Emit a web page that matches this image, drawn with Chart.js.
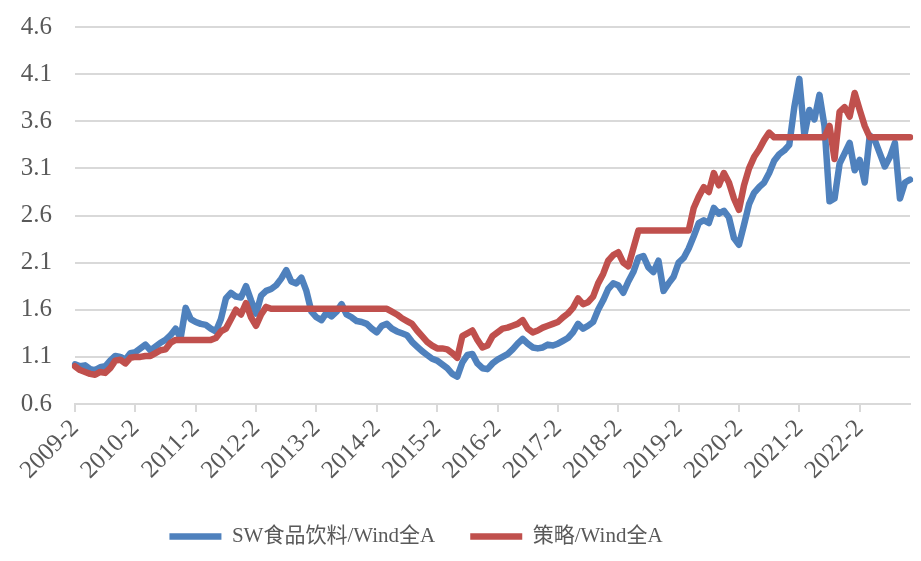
<!DOCTYPE html>
<html>
<head>
<meta charset="utf-8">
<script src="https://cdn.jsdelivr.net/npm/chart.js@4.4.0/dist/chart.umd.min.js"></script>
<style>
  html, body { margin: 0; padding: 0; background: #fff; }
  #wrap { width: 921px; height: 561px; }
</style>
</head>
<body>
<div id="wrap"><canvas id="lineChart_ratio"></canvas></div>
<script>
// month labels 2009-2 .. 2022-12, only the "-2" ones are shown
var months = [];
for (let y = 2009; y <= 2022; y++) {
  for (let m = 1; m <= 12; m++) {
    if (y === 2009 && m < 2) continue;
    months.push(y + '-' + m);
  }
}
var yearTicks = ['2009-2', '2010-2', '2011-2', '2012-2', '2013-2', '2014-2', '2015-2',
  '2016-2', '2017-2', '2018-2', '2019-2', '2020-2', '2021-2', '2022-2'];

var seriesNames = ['SW食品饮料/Wind全A', '策略/Wind全A'];

var foodRatio = [
  1.02, 1.00, 1.01, 0.97, 0.96, 0.99, 1.00, 1.06, 1.11, 1.10, 1.07, 1.14,
  1.15, 1.19, 1.23, 1.17, 1.21, 1.25, 1.28, 1.33, 1.40, 1.30, 1.62, 1.50,
  1.47, 1.45, 1.44, 1.40, 1.37, 1.50, 1.72, 1.78, 1.74, 1.73, 1.85, 1.70,
  1.56, 1.75, 1.80, 1.82, 1.86, 1.93, 2.02, 1.90, 1.88, 1.94, 1.80, 1.58,
  1.52, 1.49, 1.57, 1.53, 1.58, 1.66, 1.55, 1.52, 1.48, 1.47, 1.45, 1.40,
  1.36, 1.43, 1.45, 1.40, 1.37, 1.35, 1.33, 1.26, 1.21, 1.16, 1.12, 1.08,
  1.06, 1.02, 0.98, 0.92, 0.89, 1.04, 1.12, 1.13, 1.03, 0.98, 0.97, 1.03,
  1.07, 1.10, 1.13, 1.18, 1.24, 1.29, 1.24, 1.20, 1.19, 1.20, 1.23, 1.22,
  1.24, 1.27, 1.30, 1.36, 1.45, 1.40, 1.43, 1.47, 1.60, 1.70, 1.82, 1.88,
  1.86, 1.78, 1.90, 2.00, 2.15, 2.17, 2.05, 2.00, 2.12, 1.80, 1.88, 1.95,
  2.10, 2.15, 2.25, 2.38, 2.52, 2.55, 2.52, 2.68, 2.62, 2.65, 2.58, 2.36,
  2.29, 2.50, 2.72, 2.84, 2.90, 2.95, 3.05, 3.18, 3.25, 3.29, 3.35, 3.75,
  4.05, 3.45, 3.72, 3.62, 3.88, 3.55, 2.75, 2.78, 3.15, 3.26, 3.37, 3.08,
  3.19, 2.95, 3.45, 3.40, 3.26, 3.12, 3.22, 3.37, 2.78, 2.95, 2.98
];

var strategyRatio = [
  1.00, 0.96, 0.94, 0.92, 0.91, 0.94, 0.93, 0.98, 1.06, 1.07, 1.03, 1.09,
  1.10, 1.10, 1.11, 1.11, 1.14, 1.17, 1.18, 1.25, 1.28, 1.28, 1.28, 1.28,
  1.28, 1.28, 1.28, 1.28, 1.30, 1.37, 1.40, 1.50, 1.60, 1.55, 1.67, 1.52,
  1.43, 1.55, 1.63, 1.61, 1.61, 1.61, 1.61, 1.61, 1.61, 1.61, 1.61, 1.61,
  1.61, 1.61, 1.61, 1.61, 1.61, 1.61, 1.61, 1.61, 1.61, 1.61, 1.61, 1.61,
  1.61, 1.61, 1.61, 1.58, 1.55, 1.51, 1.48, 1.45, 1.38, 1.32, 1.26, 1.22,
  1.19, 1.19, 1.18, 1.14, 1.09, 1.32, 1.35, 1.38, 1.28, 1.20, 1.22, 1.32,
  1.36, 1.40, 1.41, 1.43, 1.45, 1.49, 1.40, 1.36, 1.38, 1.41, 1.43, 1.45,
  1.47, 1.52, 1.56, 1.62, 1.72, 1.66, 1.68, 1.74, 1.88, 1.98, 2.12, 2.18,
  2.21, 2.10, 2.06, 2.25, 2.44, 2.44, 2.44, 2.44, 2.44, 2.44, 2.44, 2.44,
  2.44, 2.44, 2.44, 2.68, 2.80, 2.90, 2.85, 3.05, 2.92, 3.05, 2.95, 2.78,
  2.66, 2.92, 3.10, 3.22, 3.30, 3.40, 3.48, 3.43, 3.43, 3.43, 3.43, 3.43,
  3.43, 3.43, 3.43, 3.43, 3.43, 3.43, 3.55, 3.20, 3.70, 3.75, 3.65, 3.90,
  3.72, 3.55, 3.43, 3.43, 3.43, 3.43, 3.43, 3.43, 3.43, 3.43, 3.43
];

var fontFamily = '"Liberation Serif", "Times New Roman", "Noto Sans CJK SC", serif';
var gridColor = '#d9d9d9';
var textColor = '#595959';

// legend in the source sits a bit left of centre
var shiftLegend = {
  id: 'shiftLegend',
  afterLayout: function (chart) {
    if (chart.legend) {
      chart.legend.right -= 78;
    }
  }
};

var ctx = document.getElementById('lineChart_ratio').getContext('2d');
var ratioChart = new Chart(ctx, {
  type: 'line',
  data: {
    labels: months,
    datasets: [{
      label: seriesNames[0],
      data: foodRatio,
      borderColor: '#4f81bd',
      backgroundColor: '#4f81bd',
      borderWidth: 6.5,
      borderCapStyle: 'round',
      borderJoinStyle: 'round',
      pointRadius: 0,
      tension: 0,
      order: 1
    }, {
      label: seriesNames[1],
      data: strategyRatio,
      borderColor: '#c0504d',
      backgroundColor: '#c0504d',
      borderWidth: 6.5,
      borderCapStyle: 'round',
      borderJoinStyle: 'round',
      pointRadius: 0,
      tension: 0,
      order: 0
    }]
  },
  plugins: [shiftLegend],
  options: {
    responsive: true,
    maintainAspectRatio: false,
    animation: false,
    layout: {
      padding: { top: 0, right: 11, left: 0, bottom: 4 }
    },
    plugins: {
      tooltip: { enabled: false },
      legend: {
        position: 'bottom',
        labels: {
          usePointStyle: true,
          pointStyle: 'line',
          pointStyleWidth: 52,
          color: textColor,
          padding: 35,
          font: { family: fontFamily, size: 21 },
          sort: function (a, b) { return a.datasetIndex - b.datasetIndex; }
        }
      }
    },
    scales: {
      x: {
        grid: {
          drawOnChartArea: false,
          color: gridColor,
          lineWidth: 2,
          tickLength: 8
        },
        border: { color: gridColor, width: 2 },
        ticks: {
          autoSkip: false,
          maxRotation: 45,
          minRotation: 45,
          padding: 2,
          color: textColor,
          font: { family: fontFamily, size: 25 },
          callback: function (value) {
            let lab = this.getLabelForValue(value);
            return yearTicks.includes(lab) ? lab : null;
          }
        },
        afterFit: function (scale) {
          scale.height = 87;
        }
      },
      y: {
        min: 0.6,
        max: 4.6,
        grid: { color: gridColor, lineWidth: 2, drawTicks: false },
        border: { display: false },
        ticks: {
          stepSize: 0.5,
          padding: 23,
          color: textColor,
          font: { family: fontFamily, size: 25 },
          callback: function (value) {
            return value.toFixed(1);
          }
        },
        afterFit: function (scale) {
          scale.width = 75;
          scale.paddingTop = 27;
        }
      }
    }
  }
});
</script>
</body>
</html>
